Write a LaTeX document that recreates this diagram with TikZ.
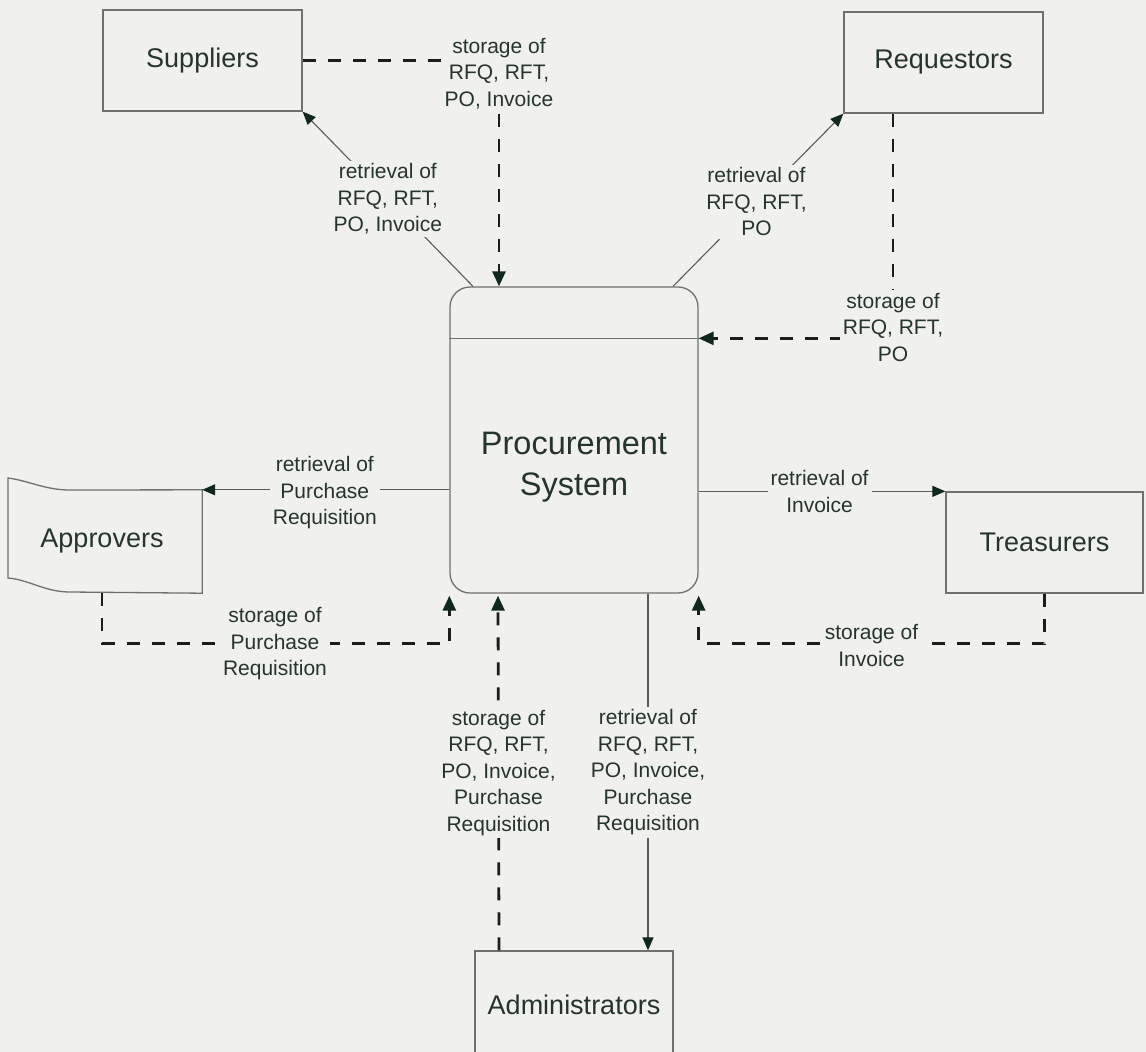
\documentclass[tikz,border=0pt]{standalone}
\usepackage{fontspec}
\setmainfont{Liberation Sans}
\usetikzlibrary{arrows.meta,calc}
\definecolor{bg}{RGB}{240,240,237}
\definecolor{linec}{RGB}{90,90,90}
\definecolor{boxc}{RGB}{112,112,112}
\definecolor{dashc}{RGB}{25,30,28}
\definecolor{arrc}{RGB}{16,40,30}
\definecolor{txt}{RGB}{38,52,48}
\begin{document}
\begin{tikzpicture}[x=1pt,y=-1pt,
  ent/.style={draw=boxc, line width=1.3pt, minimum width=199pt, minimum height=101pt, inner sep=0pt, font=\fontsize{27}{32}\selectfont, text=txt},
  lbl/.style={fill=bg, align=center, inner sep=3pt, font=\fontsize{21}{26.5}\selectfont, text=txt},
  flow/.style={draw=linec, line width=1.1pt, -{Triangle[length=13pt,width=11pt,color=arrc]}},
  dflow/.style={draw=dashc, line width=2.8pt, dash pattern=on 13pt off 12pt, -{Triangle[length=15pt,width=13pt,color=arrc]}}
  ]
\useasboundingbox (0,0) rectangle (1146,1052);
\fill[bg] (0,0) rectangle (1146,1052);
\clip (0,0) rectangle (1146,1052);

% entities
\node[ent] (sup) at (202.5,60.5) {Suppliers};
\node[ent] (req) at (943.5,62.5) {Requestors};
\node[ent, minimum width=197pt] (trs) at (1044.5,542.5) {Treasurers};
\node[ent, minimum width=198pt, minimum height=107pt] (adm) at (574,1004.5) {Administrators};
\node[inner sep=0pt, minimum width=200pt, minimum height=103pt, font=\fontsize{27}{32}\selectfont, text=txt] (appr) at (102,541.5) {Approvers};
\draw[boxc, line width=1.3pt] (8,478) .. controls (30,481) and (45,490) .. (70,490) -- (appr.north east) -- (appr.south east) -- (70,592) .. controls (45,592) and (30,580) .. (8,578) -- cycle;

% process
\node[draw=boxc, line width=1.3pt, rounded corners=20pt, minimum width=248pt, minimum height=306pt, inner sep=0pt] (proc) at (574,440) {};
\draw[boxc, line width=1.3pt] ($(proc.north west)+(0,52)$) -- ($(proc.north east)+(0,52)$);
\node[align=center, font=\fontsize{32.5}{41}\selectfont, text=txt, inner sep=0pt] (proctext) at (574,467.5) {Procurement\\System};

% Suppliers flows
\draw[dflow] (sup.east) -| node[lbl, pos=0.5, yshift=-13pt] {storage of\\RFQ, RFT,\\PO, Invoice} ([xshift=-75pt]proc.north);
\draw[flow] ([xshift=-101pt]proc.north) -- node[lbl, pos=0.5] {retrieval of\\RFQ, RFT,\\PO, Invoice} (sup.south east);

% Requestors flows
\draw[flow] ([xshift=99pt]proc.north) -- node[lbl, pos=0.49] {retrieval of\\RFQ, RFT,\\PO} (req.south west);
\draw[dflow] ([xshift=-50.5pt]req.south) |- node[lbl, pos=0.5, yshift=11pt] {storage of\\RFQ, RFT,\\PO} ($(proc.north east)+(0,52)$);

% Approvers flows
\draw[flow] (proc.west |- appr.north east) -- node[lbl, pos=0.504, yshift=-3pt] {retrieval of\\Purchase\\Requisition} (appr.north east);
\draw[dflow] (appr.south) |- node[lbl, pos=0.749] {storage of\\Purchase\\Requisition} ([yshift=-50pt]proc.south west) -- ([yshift=-2pt]proc.south west);

% Treasurers flows
\draw[flow] (proc.east |- trs.north west) -- node[lbl, pos=0.49] {retrieval of\\Invoice} (trs.north west);
\draw[dflow] (trs.south) |- node[lbl, pos=0.75, yshift=-2pt] {storage of\\Invoice} ([yshift=-50pt]proc.south east) -- ([yshift=-2pt]proc.south east);

% Administrators flows
\draw[dflow] ([xshift=-75pt]adm.north) -- node[lbl, pos=0.501] {storage of\\RFQ, RFT,\\PO, Invoice,\\Purchase\\Requisition} ([xshift=-76pt, yshift=-2pt]proc.south);
\draw[flow] ([xshift=74pt]proc.south) -- node[lbl, pos=0.501] {retrieval of\\RFQ, RFT,\\PO, Invoice,\\Purchase\\Requisition} ([xshift=74pt]adm.north);
\end{tikzpicture}
\end{document}
